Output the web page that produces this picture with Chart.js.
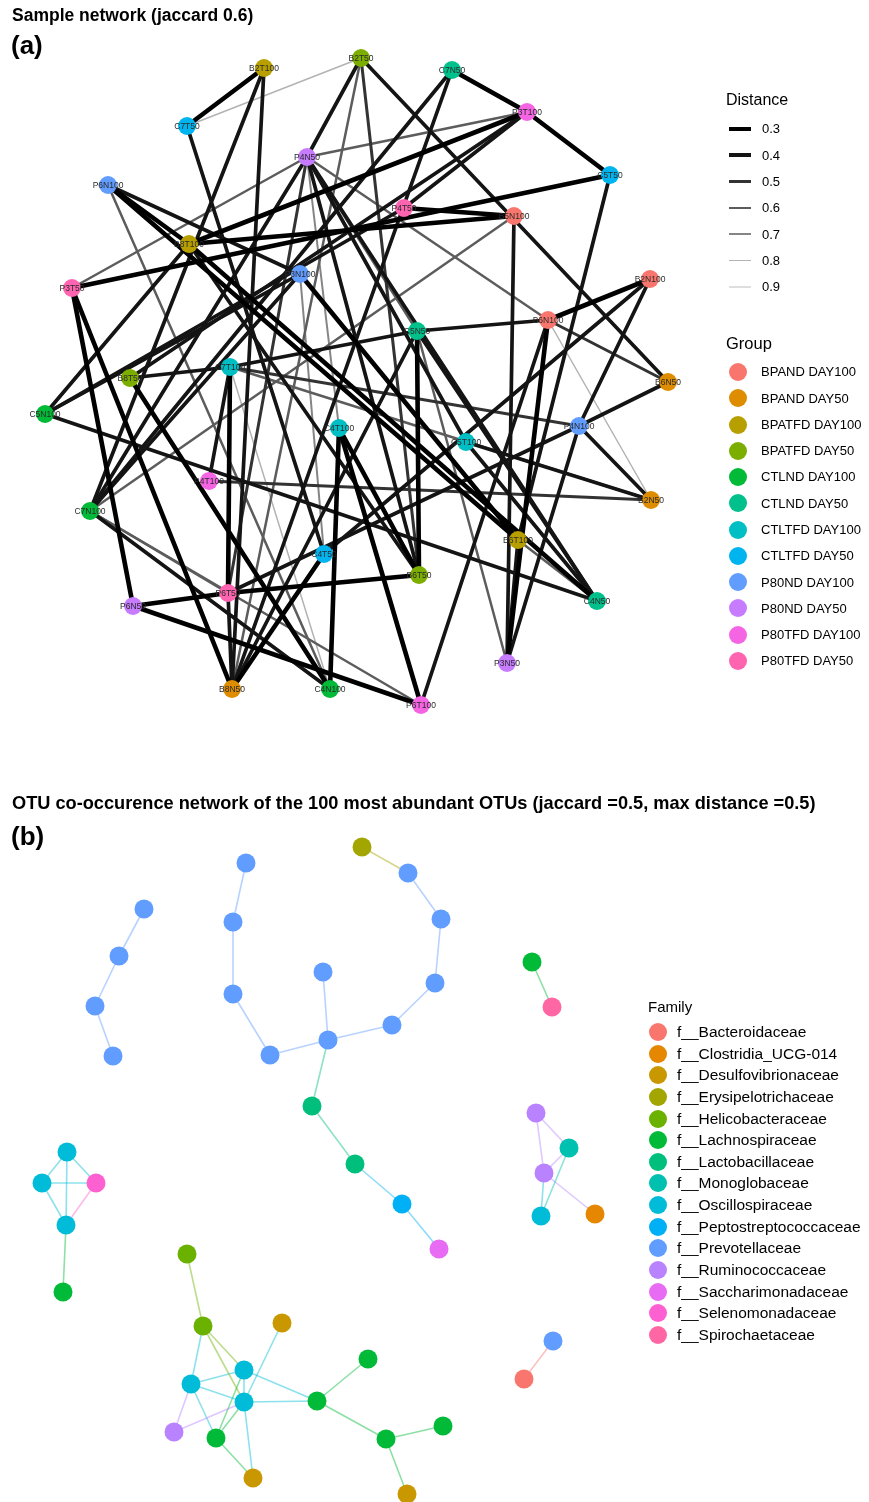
<!DOCTYPE html>
<html><head><meta charset="utf-8">
<script src="https://cdn.jsdelivr.net/npm/chart.js@4.4.1/dist/chart.umd.min.js"></script>
<style>
body{margin:0;background:#fff;font-family:"Liberation Sans",Arial,Helvetica,sans-serif;}
#page{position:relative;width:869px;height:1502px;overflow:hidden;background:#fff;}
.t{position:absolute;white-space:nowrap;line-height:1;color:#000;}
.b{font-weight:bold;}
.sw{position:absolute;}
.dot{position:absolute;border-radius:50%;}
canvas{position:absolute;left:0;}
</style></head><body><div id="page">
<canvas id="ca" width="869" height="740" style="top:0"></canvas>
<canvas id="cb" width="869" height="742" style="top:760px"></canvas>
</div>
<script>
// ---------- Panel (a) data ----------
const groupNames = ["BPAND DAY100","BPAND DAY50","BPATFD DAY100","BPATFD DAY50","CTLND DAY100","CTLND DAY50","CTLTFD DAY100","CTLTFD DAY50","P80ND DAY100","P80ND DAY50","P80TFD DAY100","P80TFD DAY50"];
const groupColors = ["#F8766D","#DE8C00","#B79F00","#7CAE00","#00BA38","#00C08B","#00BFC4","#00B4F0","#619CFF","#C77CFF","#F564E3","#FF64B0"];
const sampleNames = ["B2T100","B2T50","C7N50","P3T100","C7T50","P4N50","C5T50","P6N100","P4T50","B5N100","B8T100","P3N100","B2N100","P3T50","B6N100","C5N50","C7T100","B8T50","B6N50","C5N100","P4N100","C4T100","C5T100","P4T100","B2N50","C7N100","B6T100","C4T50","B6T50","P6T50","C4N50","P6N50","P3N50","B8N50","C4N100","P6T100"];
const sampleX = [264,361,452,527,187,307,610,108,404,514,189,300,650,72,548,417,230,130,668,45,579,339,466,209,651,90,518,324,419,228,597,133,507,232,330,421];
const sampleY = [68,58,70,112,126,157,175,185,208,216,244,274,279,288,320,331,367,378,382,414,426,428,442,481,500,511,540,554,575,593,601,606,663,689,689,705];
const sampleGroup = [2,3,5,10,7,9,7,8,11,0,2,8,0,11,0,5,6,3,1,4,8,6,6,10,1,4,2,7,3,11,5,9,9,1,4,10];
const distanceLevels = [0.3,0.4,0.5,0.6,0.7,0.8,0.9];
const edgeFrom = ["B2T100","B2T100","B2T100","C7T50","C7T50","B2T50","B2T50","B2T50","B2T50","C7N50","C7N50","C7N50","P3T100","P3T100","P3T100","P3T100","P3T100","C5T50","C5T50","P6N100","P6N100","P6N100","P6N100","P4N50","P4N50","P4N50","P4N50","P4N50","P4N50","P4N50","P4N50","P4T50","B5N100","B5N100","B5N100","P3T50","P3T50","P3T50","B8T100","B8T100","B8T100","P3N100","P3N100","P3N100","C7T100","C7T100","C7T100","C7T100","C7T100","C7T100","C7T100","B8T50","C5N100","C5N100","C5N100","C4T100","C4T100","C4T100","C5N50","C5N50","C5N50","C5N50","C5N50","B6N100","B6N100","B6N100","B6N100","B6N100","B2N100","B2N100","B6N50","P4N100","P4N100","P4N100","C5T100","C5T100","B6T100","B6T100","B6T50","P6T50","P6T50","P6T50","B2N50","B8N50","P6N50","C7N100","C7N100"];
const edgeTo   = ["C7T50","C7N100","B8N50","B2T50","C4T50","P4N50","B6N50","B8N50","B6T50","P3T100","C7N100","B8N50","C5T50","B8T100","P4N50","P4T50","B8T50","P3T50","B6T100","B8T100","B6T100","C4N100","P3N100","C5N50","B6N100","C5T100","C4N50","B6T50","C7N100","P6T50","C4T100","B5N100","B8T100","P3N50","C7N100","P4N50","P6N50","B8N50","C4N50","B6T50","C5N100","C7N100","B6T100","C4T50","P6T50","B8T50","P4N100","B2N50","C5N50","P4T100","C4N100","C4N100","P4T50","P3N100","C4N50","C4N100","B6T50","P6T100","B6T50","C4N50","B8N50","P3N50","B6N100","B2N100","B6N50","B2N50","P3N50","P6T100","C4T50","P4N100","P4N100","P3N50","B2N50","P6T50","B2N50","C4N50","C4N50","P3N50","P6T50","P6N50","B8N50","C7N100","P4T100","C4T50","P6T100","P6T100","C4N100"];
const edgeDist = [0.3,0.4,0.4,0.8,0.4,0.4,0.4,0.6,0.5,0.3,0.4,0.4,0.3,0.3,0.6,0.4,0.4,0.3,0.4,0.3,0.3,0.6,0.4,0.6,0.6,0.4,0.4,0.4,0.4,0.5,0.7,0.3,0.3,0.4,0.6,0.6,0.3,0.3,0.3,0.4,0.4,0.4,0.3,0.7,0.3,0.4,0.5,0.6,0.4,0.4,0.8,0.3,0.4,0.4,0.4,0.3,0.3,0.3,0.3,0.4,0.4,0.6,0.4,0.3,0.5,0.8,0.3,0.4,0.4,0.4,0.4,0.4,0.4,0.4,0.4,0.4,0.6,0.4,0.3,0.3,0.4,0.6,0.5,0.3,0.3,0.6,0.4];

// ---------- Panel (b) data ----------
const familyNames = ["f__Bacteroidaceae","f__Clostridia_UCG-014","f__Desulfovibrionaceae","f__Erysipelotrichaceae","f__Helicobacteraceae","f__Lachnospiraceae","f__Lactobacillaceae","f__Monoglobaceae","f__Oscillospiraceae","f__Peptostreptococcaceae","f__Prevotellaceae","f__Ruminococcaceae","f__Saccharimonadaceae","f__Selenomonadaceae","f__Spirochaetaceae"];
const familyColors = ["#F8766D","#E58700","#C99800","#A3A500","#6BB100","#00BA38","#00BF7D","#00C0AF","#00BCD8","#00B0F6","#619CFF","#B983FF","#E76BF3","#FD61D1","#FF67A4"];
const otuX = [144,119,95,113,246,233,233,270,328,323,392,435,441,408,362,312,355,402,439,532,552,536,569,544,541,595,67,42,96,66,63,553,524,187,203,282,244,191,244,174,216,253,317,368,386,443,407];
const otuY = [909,956,1006,1056,863,922,994,1055,1040,972,1025,983,919,873,847,1106,1164,1204,1249,962,1007,1113,1148,1173,1216,1214,1152,1183,1183,1225,1292,1341,1379,1254,1326,1323,1370,1384,1402,1432,1438,1478,1401,1359,1439,1426,1494];
const otuFamily = [10,10,10,10,10,10,10,10,10,10,10,10,10,10,3,6,6,9,12,5,14,11,7,11,8,1,8,8,13,8,5,10,0,4,4,2,8,8,8,11,5,2,5,5,5,5,2];
// edge colour follows the first OTU of each pair
const linkFrom = [0,1,2,4,5,6,7,8,8,10,11,12,14,15,15,17,17,19,21,21,23,22,24,23,26,26,26,27,27,28,30,32,33,34,34,37,36,36,36,37,38,39,39,37,40,40,38,40,38,42,42,44,44];
const linkTo   = [1,2,3,5,6,7,8,9,10,11,12,13,13,8,16,16,18,20,23,22,22,24,23,25,27,28,29,28,29,29,29,31,34,36,38,34,37,38,42,38,35,37,38,40,36,38,41,41,42,43,44,45,46];

// ---------- styles ----------
const distWidth = {0.3:4.6,0.4:3.7,0.5:3.0,0.6:2.5,0.7:2.0,0.8:1.5,0.9:1.1};
const distColor = {0.3:"#000000",0.4:"#141414",0.5:"#333333",0.6:"#5c5c5c",0.7:"#858585",0.8:"#b3b3b3",0.9:"#dedede"};
function hexA(h,a){const r=parseInt(h.slice(1,3),16),g=parseInt(h.slice(3,5),16),b=parseInt(h.slice(5,7),16);return `rgba(${r},${g},${b},${a})`;}

const labelPlugin = {
  id:'nodeLabels',
  afterDatasetsDraw(chart, args, opts){
    if(!opts.labels) return;
    const meta = chart.getDatasetMeta(0);
    const ctx = chart.ctx;
    ctx.save();
    ctx.font = '8.5px "Liberation Sans", Arial, sans-serif';
    ctx.fillStyle = '#2b2b2b';
    ctx.textAlign = 'center';
    ctx.textBaseline = 'middle';
    meta.data.forEach((pt,i)=>{ ctx.fillText(opts.labels[i], pt.x, pt.y+0.5); });
    ctx.restore();
  }
};

function makeNet(id, xs, ys, colors, radius, edges, yMin, yMax, labels, w){
  const nodeData = xs.map((x,i)=>({x:x,y:ys[i]}));
  const datasets = [{
    data: nodeData, pointRadius: radius, pointHoverRadius: radius,
    pointBackgroundColor: colors, pointBorderWidth: 0, showLine:false, order:0
  }];
  edges.forEach(e=>{
    datasets.push({data:[nodeData[e.a], nodeData[e.b]], showLine:true, borderColor:e.color,
      borderWidth:e.width, pointRadius:0, order:1, borderCapStyle:'round'});
  });
  return new Chart(document.getElementById(id), {
    type:'scatter',
    data:{datasets},
    options:{
      responsive:false, animation:false, events:[], clip:false,
      layout:{padding:0, autoPadding:false},
      plugins:{legend:{display:false}, tooltip:{enabled:false}, nodeLabels:{labels:labels}},
      scales:{
        x:{type:'linear', display:false, min:0, max:w},
        y:{type:'linear', display:false, min:yMin, max:yMax, reverse:true}
      }
    },
    plugins:[labelPlugin]
  });
}

// panel a
const idx = n => sampleNames.indexOf(n);
const edgesA = edgeFrom.map((f,i)=>({a:idx(f), b:idx(edgeTo[i]), color:distColor[edgeDist[i]], width:distWidth[edgeDist[i]]}));
edgesA.sort((p,q)=>q.width-p.width);
makeNet('ca', sampleX, sampleY, sampleGroup.map(g=>groupColors[g]), 9, edgesA, 0, 740, sampleNames, 869);

// panel b
const edgesB = linkFrom.map((f,i)=>({a:f, b:linkTo[i], color:hexA(familyColors[otuFamily[f]],0.45), width:1.6}));
makeNet('cb', otuX, otuY, otuFamily.map(f=>familyColors[f]), 9.5, edgesB, 760, 1502, null, 869);

// ---------- titles and legends (HTML text) ----------
const page = document.getElementById('page');
function txt(s, left, cy, size, bold){
  const d=document.createElement('div'); d.className='t'+(bold?' b':'');
  d.textContent=s; d.style.left=left+'px'; d.style.top=(cy-size*0.55)+'px'; d.style.fontSize=size+'px';
  page.appendChild(d); return d;
}
txt("Sample network (jaccard 0.6)", 12, 17, 17.5, true);
txt("(a)", 11, 46, 26, true);
txt("OTU co-occurence network of the 100 most abundant OTUs (jaccard =0.5, max distance =0.5)", 12, 804, 18.2, true);
txt("(b)", 11, 837, 26, true);

txt("Distance", 726, 101, 16, false);
distanceLevels.forEach((d,i)=>{
  const cy = 129 + i*26.33;
  const s=document.createElement('div'); s.className='sw';
  const h=distWidth[d];
  s.style.left='729px'; s.style.width='22px'; s.style.top=(cy-h/2)+'px'; s.style.height=h+'px'; s.style.background=distColor[d];
  page.appendChild(s);
  txt(d.toFixed(1), 762, cy+0.5, 13, false);
});
txt("Group", 726, 344, 16.5, false);
groupNames.forEach((g,i)=>{
  const cy = 372 + i*26.27;
  const c=document.createElement('div'); c.className='dot';
  c.style.left='729px'; c.style.top=(cy-9)+'px'; c.style.width='18px'; c.style.height='18px'; c.style.background=groupColors[i];
  page.appendChild(c);
  txt(g, 761, cy+0.5, 13, false);
});
txt("Family", 648, 1007, 15, false);
familyNames.forEach((f,i)=>{
  const cy = 1032 + i*21.64;
  const c=document.createElement('div'); c.className='dot';
  c.style.left='649px'; c.style.top=(cy-9)+'px'; c.style.width='18px'; c.style.height='18px'; c.style.background=familyColors[i];
  page.appendChild(c);
  txt(f, 677, cy+0.5, 15.5, false);
});
</script>
</body></html>
